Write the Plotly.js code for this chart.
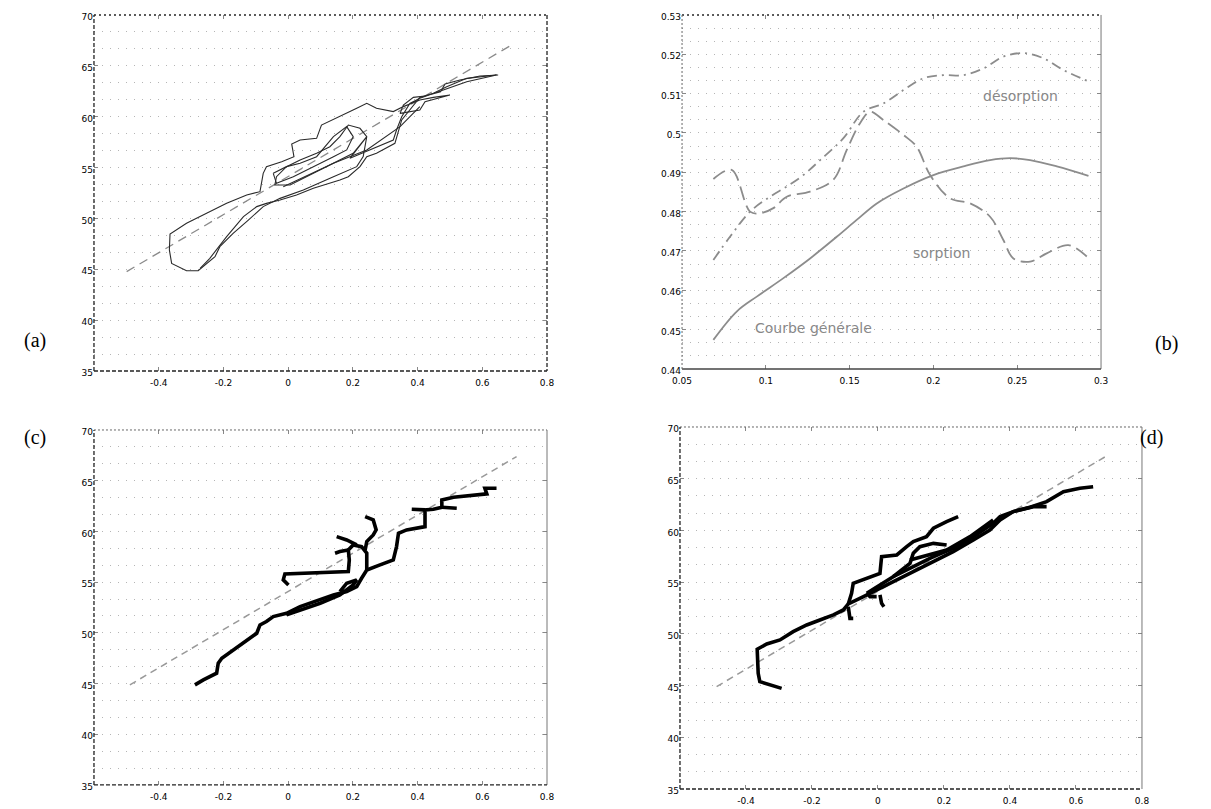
<!DOCTYPE html>
<html>
<head>
<meta charset="utf-8">
<script src="https://cdn.plot.ly/plotly-3.0.1.min.js"></script>
<style>html,body{margin:0;padding:0;background:#fff;}#plot{width:1211px;height:809px;}</style>
</head>
<body>
<div id="plot"></div>
<script>
// ---------- Panel (a) ----------
const aX = [0.649,0.593,0.531,0.485,0.471,0.423,0.387,0.356,0.346,0.407,0.423,0.500,0.449,0.407,0.356,0.325,0.273,0.243,0.212,0.160,0.129,0.103,0.088,0.037,0.011,0.018,-0.020,-0.067,-0.077,-0.087,-0.128,-0.190,-0.252,-0.314,-0.365,-0.367,-0.360,-0.314,-0.278,-0.226,-0.211,-0.170,-0.123,-0.077,-0.025,0.047,0.140,0.186,0.212,0.232,0.243,0.222,0.186,0.160,0.129,0.088,0.037,-0.005,-0.036,-0.041,0.006,0.078,0.160,0.201,0.243,0.191,0.325,0.335,0.351,0.376,0.407,0.479,0.552,0.644,
  null,0.644,0.552,0.490,0.449,0.407,0.376,0.351,0.330,0.273,0.243,0.222,0.186,0.160,0.078,0.026,-0.025,-0.067,-0.097,-0.138,-0.190,-0.221,-0.242,-0.272,
  null,-0.046,-0.005,0.037,0.088,0.140,0.181,0.201,0.181,0.140,0.078,0.016,-0.036,-0.046,
  null,-0.015,0.140,0.243,0.346,0.407];
const aY = [64.10,64.00,63.61,63.22,62.46,62.04,61.90,61.15,60.33,60.66,61.48,62.13,61.90,61.64,60.99,60.50,60.82,61.31,60.82,60.00,59.51,59.18,57.87,57.71,57.32,56.07,55.58,55.09,54.43,52.63,52.30,51.48,50.50,49.52,48.47,46.90,45.58,44.86,44.86,46.24,47.22,48.53,49.84,51.16,51.97,52.79,54.10,54.76,55.09,56.07,58.04,58.86,59.18,58.04,57.05,56.40,55.74,55.09,54.10,53.29,53.29,54.43,55.74,56.40,58.04,55.91,57.71,58.69,60.00,61.31,61.81,62.63,63.44,64.10,
  null,64.10,63.77,62.95,62.30,61.90,60.66,59.68,57.38,56.40,56.07,55.09,54.10,53.78,52.96,52.30,51.81,51.48,51.16,50.17,48.21,46.90,46.08,45.09,
  null,54.43,55.09,55.42,56.07,58.04,59.02,58.04,56.73,56.07,55.09,54.10,53.45,54.43,
  null,53.12,55.42,56.73,59.02,60.99];
const aFitX = [-0.499, 0.685];
const aFitY = [44.77, 66.95];

// ---------- Panel (b) ----------
const bGenX = [0.0687,0.0826,0.0946,0.1105,0.1264,0.1423,0.1542,0.1662,0.1821,0.2000,0.2179,0.2338,0.2457,0.2577,0.2736,0.2925];
const bGenY = [0.4474,0.4546,0.4584,0.4631,0.4681,0.4736,0.4779,0.4821,0.4859,0.4893,0.4915,0.4931,0.4936,0.4931,0.4915,0.4891];
const bSorX = [0.0687,0.0796,0.0906,0.0966,0.1045,0.1125,0.1264,0.1403,0.1483,0.1562,0.1622,0.1701,0.1821,0.1900,0.1980,0.2099,0.2219,0.2338,0.2417,0.2477,0.2577,0.2676,0.2805,0.2915];
const bSorY = [0.4883,0.4906,0.4800,0.4796,0.4809,0.4838,0.4851,0.4881,0.4957,0.5025,0.5054,0.5033,0.4995,0.4965,0.4893,0.4834,0.4821,0.4787,0.4728,0.4681,0.4673,0.4694,0.4715,0.4686];
const bDesX = [0.0687,0.0786,0.0906,0.1025,0.1125,0.1224,0.1324,0.1463,0.1582,0.1701,0.1821,0.1940,0.2059,0.2179,0.2298,0.2417,0.2537,0.2656,0.2776,0.2925];
const bDesY = [0.4677,0.4736,0.4800,0.4838,0.4864,0.4893,0.4931,0.4987,0.5054,0.5075,0.5109,0.5139,0.5147,0.5147,0.5164,0.5194,0.5203,0.5190,0.5160,0.5131];

// ---------- Panel (c) ----------
const cX = [-0.288,-0.262,-0.221,-0.216,-0.205,-0.170,-0.128,-0.097,-0.087,-0.067,-0.046,-0.005,0.037,0.078,0.140,0.181,0.212,0.227,0.243,0.284,0.325,0.335,0.341,0.366,0.423,0.423,0.449,0.475,0.475,0.511,0.583,0.614,0.608,0.644,
  null,0.475,0.521, null,0.382,0.423,
  null,0.001,-0.015,-0.010,0.088,0.186,0.189,0.186,0.201,0.227,0.243,0.243,
  null,0.150,0.181,0.212,
  null,0.145,0.160,0.186,
  null,0.238,0.263,0.272,0.263,0.243,0.238,
  null,-0.005,0.037,0.099,0.160,0.201,0.212,0.181,0.160];
const cY = [44.87,45.36,46.02,47.00,47.50,48.32,49.30,49.96,50.78,51.11,51.60,51.93,52.59,53.08,53.74,54.07,54.56,55.38,56.20,56.70,57.19,58.50,59.82,60.15,60.47,62.12,62.18,62.38,63.10,63.37,63.60,63.70,64.25,64.25,
  null,62.38,62.28, null,62.18,62.12,
  null,54.72,55.22,55.81,55.94,56.04,57.19,58.17,58.67,58.50,57.85,56.20,
  null,59.49,59.16,58.67,
  null,57.85,58.01,58.17,
  null,61.46,61.13,60.15,59.65,59.00,58.17,
  null,51.77,52.26,52.92,53.74,54.72,55.22,54.89,54.07];
const cFitX = [-0.489, 0.706];
const cFitY = [44.87, 67.38];

// ---------- Panel (d) ----------
const dX = [-0.292,-0.322,-0.358,-0.363,-0.365,-0.366,-0.337,-0.297,-0.257,-0.216,-0.176,-0.135,-0.105,-0.090,-0.044,0.006,0.057,0.107,0.168,0.228,0.289,0.339,0.370,0.410,0.461,0.511,0.562,0.612,0.652,
  null,-0.090,-0.080,-0.075,-0.024,0.006,0.011,0.057,0.087,0.107,0.147,0.168,0.208,0.243,
  null,-0.034,0.006,0.046,0.097,0.107,0.127,0.168,0.208,
  null,0.046,0.107,0.168,0.228,0.289,0.349,0.370,0.410,0.471,0.511,
  null,0.097,0.168,0.208,0.279,0.349,
  null,-0.090,-0.085,-0.075,
  null,0.006,0.011,0.018,
  null,-0.034,-0.024,-0.004];
const dY = [44.73,45.06,45.38,46.19,47.47,48.51,49.02,49.41,50.21,50.86,51.34,51.83,52.31,52.89,53.60,54.40,55.27,56.02,56.98,57.95,59.08,60.04,61.01,61.82,62.24,62.78,63.75,64.07,64.23,
  null,52.89,53.92,54.89,55.53,55.85,57.47,57.63,58.43,58.92,59.40,60.21,60.85,61.33,
  null,53.92,54.73,55.53,56.82,57.79,58.43,58.75,58.59,
  null,55.53,56.50,57.47,58.27,59.40,60.69,61.33,61.82,62.30,62.30,
  null,57.14,57.79,58.11,59.40,61.01,
  null,52.63,51.50,51.50,
  null,53.76,52.95,52.63,
  null,53.92,53.60,53.60];
const dFitX = [-0.489, 0.698];
const dFitY = [44.90, 67.30];

// ---------- Tick labels ----------
const xTickVals = [-0.4,-0.2,0,0.2,0.4,0.6,0.8];
const xTickText = ['-0.4','-0.2','0','0.2','0.4','0.6','0.8'];
const yTickVals = [35,40,45,50,55,60,65,70];
const yTickText = ['35','40','45','50','55','60','65','70'];
const bXTickVals = [0.05,0.1,0.15,0.2,0.25,0.3];
const bXTickText = ['0.05','0.1','0.15','0.2','0.25','0.3'];
const bYTickVals = [0.44,0.45,0.46,0.47,0.48,0.49,0.5,0.51,0.52,0.53];
const bYTickText = ['0.44','0.45','0.46','0.47','0.48','0.49','0.5','0.51','0.52','0.53'];

const traces = [
  {x:aFitX, y:aFitY, xaxis:'x', yaxis:'y', mode:'lines', line:{color:'#8a8a8a', width:1.3, dash:'9px,6px'}},
  {x:aX, y:aY, xaxis:'x', yaxis:'y', mode:'lines', connectgaps:false, line:{color:'#2a2a2a', width:1.1}},
  {x:bGenX, y:bGenY, xaxis:'x2', yaxis:'y2', mode:'lines', line:{color:'#8c8c8c', width:1.8, shape:'spline'}},
  {x:bSorX, y:bSorY, xaxis:'x2', yaxis:'y2', mode:'lines', line:{color:'#8c8c8c', width:1.8, dash:'14px,6px', shape:'spline'}},
  {x:bDesX, y:bDesY, xaxis:'x2', yaxis:'y2', mode:'lines', line:{color:'#8c8c8c', width:1.8, dash:'10px,5px,2px,5px', shape:'spline'}},
  {x:cFitX, y:cFitY, xaxis:'x3', yaxis:'y3', mode:'lines', line:{color:'#999', width:1.5, dash:'7px,5px'}},
  {x:cX, y:cY, xaxis:'x3', yaxis:'y3', mode:'lines', connectgaps:false, line:{color:'#000', width:3.6}},
  {x:dFitX, y:dFitY, xaxis:'x4', yaxis:'y4', mode:'lines', line:{color:'#999', width:1.5, dash:'7px,5px'}},
  {x:dX, y:dY, xaxis:'x4', yaxis:'y4', mode:'lines', connectgaps:false, line:{color:'#000', width:3.6}}
];

const tickFont = {family:'DejaVu Sans', size:9, color:'#000'};
function xax(domain, range, anchor, tv, tt){
  return {domain:domain, range:range, anchor:anchor, tickvals:tv, ticktext:tt, tickfont:tickFont,
    ticks:'inside', ticklen:4, tickcolor:'#888', ticklabelstandoff:5, showline:false, zeroline:false, showgrid:false, mirror:'ticks', fixedrange:true};
}
function yax(domain, range, anchor, tv, tt, minorStep){
  return {domain:domain, range:range, anchor:anchor, tickvals:tv, ticktext:tt, tickfont:tickFont,
    ticks:'inside', ticklen:4, tickcolor:'#888', ticklabelshift:2, showline:false, zeroline:false, mirror:'ticks',
    showgrid:true, gridcolor:'#b5b5b5', gridwidth:1, griddash:'1px,7px',
    minor:{dtick:minorStep, tick0:range[0], showgrid:true, gridcolor:'#b5b5b5', gridwidth:1, griddash:'1px,7px', ticks:''},
    fixedrange:true};
}

function frame(xr, yr, st){
  const xref = xr + ' domain', yref = yr + ' domain';
  const seg = [[0,1,1,1],[1,1,1,0],[0,0,1,0],[0,0,0,1]];
  return seg.map((s,i)=>({type:'line', xref:xref, yref:yref, x0:s[0], y0:s[1], x1:s[2], y1:s[3],
    line:{color:st[i].c, width:st[i].w, dash:st[i].d}}));
}
const DASHB = {c:'#222', w:1.3, d:'4px,2px'};
const DOTB = {c:'#222', w:1.6, d:'2px,3px'};
const SOLG = {c:'#777', w:1, d:'solid'};
const SOLD = {c:'#444', w:1.3, d:'solid'};
const DOTG = {c:'#666', w:1, d:'2px,2px'};

const shapes = [].concat(
  frame('x','y',[DOTB, DASHB, DASHB, DASHB]),
  frame('x2','y2',[DOTB, SOLG, SOLD, DOTG]),
  frame('x3','y3',[DOTG, SOLG, DASHB, DASHB]),
  frame('x4','y4',[DOTG, SOLG, DASHB, DASHB])
);

const panelFont = {family:'Liberation Serif', size:20, color:'#000'};
const noteFont = {family:'DejaVu Sans', size:14, color:'#888'};
const annotations = [
  {text:'(a)', xref:'paper', yref:'paper', x:0.018, y:0.5797, showarrow:false, font:panelFont},
  {text:'(b)', xref:'paper', yref:'paper', x:0.9744, y:0.576, showarrow:false, font:panelFont},
  {text:'(c)', xref:'paper', yref:'paper', x:0.018, y:0.4598, showarrow:false, font:panelFont},
  {text:'(d)', xref:'paper', yref:'paper', x:0.962, y:0.4598, showarrow:false, font:panelFont},
  {text:'désorption', xref:'x2', yref:'y2', x:0.2517, y:0.5094, showarrow:false, font:noteFont},
  {text:'sorption', xref:'x2', yref:'y2', x:0.2050, y:0.4696, showarrow:false, font:noteFont},
  {text:'Courbe générale', xref:'x2', yref:'y2', x:0.1284, y:0.4504, showarrow:false, font:noteFont}
];

const layout = {
  width:1211, height:809, margin:{l:0, r:0, t:0, b:0},
  paper_bgcolor:'#fff', plot_bgcolor:'#fff', showlegend:false,
  xaxis: xax([0.0776,0.4517],[-0.6,0.8],'y', xTickVals, xTickText),
  yaxis: yax([0.5414,0.9815],[35,70],'x', yTickVals, yTickText, 5/3),
  xaxis2: xax([0.5632,0.9092],[0.05,0.3],'y2', bXTickVals, bXTickText),
  yaxis2: yax([0.5439,0.9815],[0.44,0.53],'x2', bYTickVals, bYTickText, 0.01/3),
  xaxis3: xax([0.0776,0.4517],[-0.6,0.8],'y3', xTickVals, xTickText),
  yaxis3: yax([0.0297,0.4685],[35,70],'x3', yTickVals, yTickText, 5/3),
  xaxis4: xax([0.5615,0.9430],[-0.6,0.8],'y4', xTickVals, xTickText),
  yaxis4: yax([0.0247,0.4722],[35,70],'x4', yTickVals, yTickText, 5/3),
  shapes: shapes,
  annotations: annotations
};

Plotly.newPlot('plot', traces, layout, {staticPlot:true, displayModeBar:false});
</script>
</body>
</html>
